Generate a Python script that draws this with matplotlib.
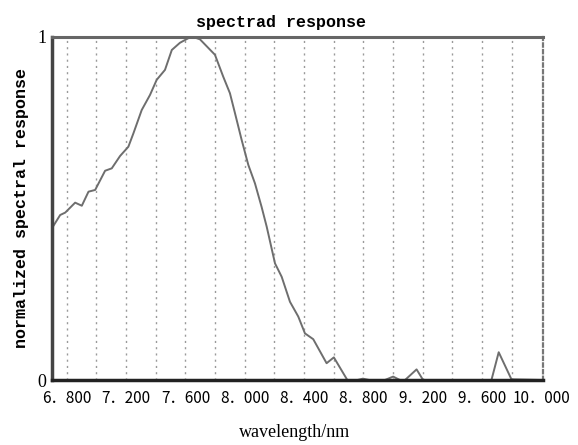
import numpy as np
import matplotlib.pyplot as plt

# curve (wavelength in nm, normalized response)
wavelength = [6.706, 6.755, 6.789, 6.856, 6.901, 6.946, 6.991, 7.058, 7.103, 7.159,
              7.215, 7.249, 7.305, 7.361, 7.406, 7.462, 7.508, 7.563, 7.631, 7.651,
              7.698, 7.799, 7.855, 7.900, 7.934, 7.979, 8.024, 8.069, 8.114, 8.148,
              8.204, 8.249, 8.305, 8.361, 8.406, 8.462, 8.552, 8.601, 8.692, 8.760,
              8.797, 8.840, 8.945, 9.001, 9.047, 9.081, 9.159, 9.203, 9.664, 9.713,
              9.799, 10.010]
response = [0.447, 0.481, 0.488, 0.517, 0.508, 0.549, 0.554, 0.610, 0.617, 0.653,
            0.680, 0.719, 0.787, 0.831, 0.875, 0.904, 0.962, 0.983, 0.999, 1.000,
            0.993, 0.948, 0.884, 0.836, 0.778, 0.700, 0.627, 0.573, 0.504, 0.447,
            0.340, 0.301, 0.228, 0.185, 0.136, 0.119, 0.049, 0.066, 0.000, 0.000,
            0.004, 0.000, 0.000, 0.010, 0.000, 0.000, 0.031, 0.000, 0.000, 0.081,
            0.002, 0.000]

x_ticks = [6.8, 7.2, 7.6, 8.0, 8.4, 8.8, 9.2, 9.6, 10.0]
x_labels = ['6．800', '7．200', '7．600', '8．000', '8．400', '8．800', '9．200', '9．600', '10．000']
grid_x = np.round(np.arange(6.8, 9.81, 0.2), 1)

fig = plt.figure(figsize=(5.78, 4.45), dpi=100)
ax = fig.add_axes([0.090, 0.146, 0.849, 0.771])

ax.plot(wavelength, response, color='#6e6e6e', lw=1.4)

ax.set_xlim(6.70, 10.01)
ax.set_ylim(0, 1)

ax.set_xticks(x_ticks)
ax.set_xticklabels(x_labels, family=['Noto Sans CJK SC', 'DejaVu Sans'], fontsize=11)
ax.set_xticks(grid_x, minor=True)
ax.set_yticks([0, 1])
ax.set_yticklabels(['0', '1'], family='Liberation Serif', fontsize=13)
ax.tick_params(which='both', length=0)
ax.tick_params(axis='x', pad=7)
ax.tick_params(axis='y', pad=4)

ax.grid(False)
for g in grid_x:
    ax.axvline(g, color='#9a9a9a', lw=1.0, ls=(0, (1.5, 3)), zorder=0)

ax.spines['left'].set_linewidth(2.5)
ax.spines['left'].set_color('#444444')
ax.spines['bottom'].set_linewidth(2.5)
ax.spines['bottom'].set_color('#222222')
ax.spines['top'].set_linewidth(2.2)
ax.spines['top'].set_color('#666666')
ax.spines['top'].set_linestyle((0, (1, 1)))
ax.spines['right'].set_linewidth(1.6)
ax.spines['right'].set_color('#777777')
ax.spines['right'].set_linestyle((0, (1.5, 1.5)))

fig.text(0.486, 0.950, 'spectrad response', family='Liberation Mono',
         fontweight='bold', fontsize=12, ha='center', va='center')
fig.text(0.038, 0.533, 'normalized spectral response', family='Liberation Mono',
         fontweight='bold', fontsize=12, rotation=90, ha='center', va='center')
fig.text(0.51, 0.027, 'wavelength/nm', family='Liberation Serif',
         fontsize=13, ha='center', va='center')

fig.savefig('out.png', dpi=100)
